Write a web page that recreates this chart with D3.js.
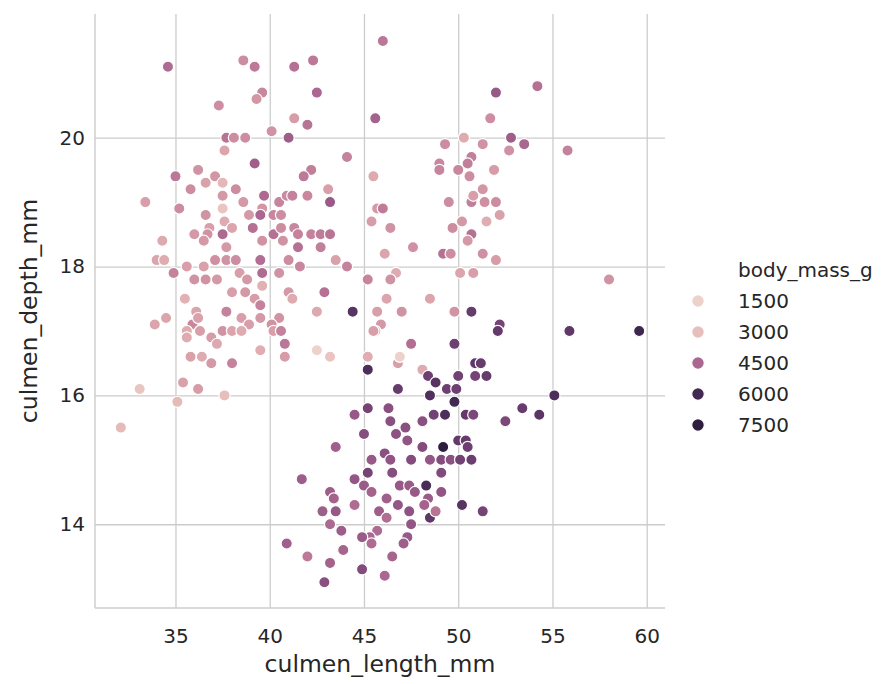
<!DOCTYPE html>
<html><head><meta charset="utf-8">
<script src="https://cdn.jsdelivr.net/npm/d3@7"></script>
<style>
body{margin:0;background:#fff}
svg{display:block}
text{font-family:"DejaVu Sans",sans-serif;fill:#262626}
</style>
</head><body>
<svg id="c" width="888" height="684"></svg>
<script>
// ---- data ----
const culmenLength = [
 34.6,38.6,39.2,39.6,39.3,37.3,40.1,37.7,38.1,38.7,41.0,37.6,39.2,35.0,36.2,37.1,36.6,37.5,35.8,38.2,37.5,39.7,33.4,38.6,40.5,40.9,35.2,37.5,39.6,
 36.6,37.6,38.0,38.9,39.5,40.2,40.6,36.0,36.8,36.7,37.5,39.1,40.2,40.6,34.3,36.5,37.7,39.6,40.7,34.0,34.4,37.1,37.7,38.2,39.5,41.0,34.9,35.6,36.5,36.0,
 36.6,37.2,38.4,38.8,39.6,39.6,40.5,35.5,38.0,38.7,39.2,39.5,41.0,36.1,37.7,38.5,39.5,40.5,33.9,34.5,35.9,36.2,38.9,35.6,36.3,37.5,38.0,38.5,40.1,40.2,
 40.6,35.6,36.9,37.2,40.8,39.5,35.8,36.4,36.9,38.0,40.8,33.1,35.4,36.2,37.6,35.1,32.1,40.9,
 46.0,41.3,42.3,42.5,41.3,42.0,45.6,44.1,42.2,41.8,41.2,42.0,43.1,43.2,45.5,45.7,46.0,49.3,49.0,49.0,50.0,50.3,50.7,50.5,50.6,49.5,50.7,50.8,
 52.0,54.2,51.7,52.8,53.5,52.7,55.8,51.3,51.9,51.3,51.4,52.0,
 45.4,46.4,41.3,41.5,42.2,42.7,43.2,41.5,42.7,41.6,43.5,44.1,47.6,46.1,49.2,49.6,49.7,50.2,50.7,50.5,
 50.1,50.8,46.7,46.4,45.2,42.9,41.2,42.5,44.4,46.2,48.5,45.7,47.0,49.8,50.7,45.9,45.6,45.5,47.5,49.8,
 42.5,43.2,45.2,46.8,46.9,45.2,48.1,48.4,48.8,50.0,50.9,50.9,46.8,48.5,49.4,49.9,
 52.2,51.5,51.3,52.0,58.0,52.2,52.1,55.9,59.6,51.2,51.5,55.1,
 52.5,53.4,54.3,51.3,
 45.2,46.3,44.5,46.4,45.0,47.2,46.7,47.3,43.5,46.1,45.4,46.4,46.5,45.2,44.5,41.7,43.2,43.4,42.8,43.5,
 44.5,43.2,43.8,45.0,45.4,46.2,46.8,45.8,46.2,46.9,47.4,47.7,47.4,47.5,45.7,45.3,44.9,45.4,47.3,47.1,
 43.9,42.0,43.2,44.9,46.5,46.1,42.9,48.1,48.1,48.7,49.3,49.8,50.4,50.8,49.2,50.0,50.4,50.5,47.5,
 48.5,49.1,49.6,50.1,50.7,49.1,48.3,49.1,48.4,48.2,50.2,48.5,48.8
];
const culmenDepth = [
 21.1,21.2,21.1,20.7,20.6,20.5,20.1,20.0,20.0,20.0,20.0,19.8,19.6,19.4,19.5,19.4,19.3,19.3,19.2,19.2,19.1,19.1,19.0,19.0,19.0,19.1,18.9,18.9,18.9,
 18.8,18.7,18.6,18.8,18.8,18.8,18.8,18.5,18.6,18.5,18.5,18.6,18.5,18.6,18.4,18.4,18.3,18.4,18.4,18.1,18.1,18.1,18.1,18.1,18.1,18.1,17.9,18.0,18.0,17.8,
 17.8,17.8,17.9,17.8,17.9,17.7,17.9,17.5,17.6,17.6,17.5,17.4,17.6,17.3,17.3,17.2,17.2,17.2,17.1,17.2,17.1,17.2,17.1,17.0,17.0,17.0,17.0,17.0,17.1,17.0,
 17.0,16.9,16.9,16.8,16.8,16.7,16.6,16.6,16.5,16.5,16.6,16.1,16.2,16.1,16.0,15.9,15.5,13.7,
 21.5,21.1,21.2,20.7,20.3,20.2,20.3,19.7,19.5,19.4,19.1,19.1,19.2,19.0,19.4,18.9,18.9,19.9,19.6,19.5,19.5,20.0,19.7,19.6,19.4,19.0,19.0,19.1,
 20.7,20.8,20.3,20.0,19.9,19.8,19.8,19.9,19.5,19.2,19.0,19.0,
 18.7,18.6,18.6,18.5,18.5,18.5,18.5,18.3,18.3,18.0,18.1,18.0,18.3,18.2,18.2,18.2,18.6,18.7,18.5,18.4,
 17.9,17.9,17.9,17.8,17.8,17.6,17.5,17.3,17.3,17.5,17.5,17.3,17.3,17.3,17.3,17.1,17.0,17.0,16.8,16.8,
 16.7,16.6,16.6,16.5,16.6,16.4,16.4,16.3,16.2,16.3,16.5,16.3,16.1,16.0,16.1,16.1,
 18.8,18.7,18.2,18.1,17.8,17.1,17.0,17.0,17.0,16.5,16.3,16.0,
 15.6,15.8,15.7,14.2,
 15.8,15.8,15.7,15.6,15.4,15.5,15.4,15.3,15.2,15.1,15.0,15.0,14.8,14.8,14.7,14.7,14.5,14.4,14.2,14.2,
 14.3,14.0,13.9,14.6,14.5,14.4,14.3,14.2,14.1,14.6,14.6,14.5,14.2,14.0,13.9,13.8,13.8,13.7,13.8,13.7,
 13.6,13.5,13.4,13.3,13.5,13.2,13.1,15.2,15.6,15.7,15.7,15.9,15.7,15.7,15.2,15.3,15.3,15.2,15.0,
 15.0,15.0,15.0,15.0,15.0,14.8,14.6,14.5,14.4,14.3,14.3,14.1,14.2
];
const bodyMass = [
 4400,3800,4150,3900,3650,3775,3700,4250,3800,3800,4700,3400,4675,4200,3700,3650,3450,3100,3800,3800,3600,4450,3500,3600,3950,3850,3800,2900,3650,
 3700,3300,3400,3600,4500,3900,3800,3600,3500,3700,4450,4300,4300,3800,3325,3600,3600,3700,3700,3400,3300,3750,3700,3800,4350,3800,4000,3500,3450,3700,
 3700,3600,3500,3600,4400,3200,3700,3200,3500,3600,3550,4000,3600,3400,4000,3500,3600,3700,3400,3400,3900,3450,3500,3300,3500,3700,3400,3300,3700,3500,
 4000,3300,3550,3350,4200,3250,3450,3300,3600,4000,3550,2900,3450,3550,3000,3050,3050,4650,
 4200,4300,4150,4500,3550,4250,4600,4000,4050,4150,4000,3900,3500,4775,3325,3600,4100,3800,3900,3950,3900,3300,4050,4050,3800,3800,4050,3500,
 4800,4300,3775,4700,4500,3725,4000,3700,3550,3650,3750,3800,
 3525,3700,3900,4000,4000,4100,4250,4300,4050,3900,3450,4000,3725,3400,4300,3800,3800,3600,4300,3600,
 3400,3500,3300,3700,3950,4300,3300,3350,5700,3400,3400,3500,3700,3675,5500,3600,3500,3500,4350,5400,
 2700,2900,3250,3500,2700,5850,3300,5400,5700,5350,5600,5300,5500,5800,5400,5400,
 3450,3250,3750,3550,3700,5300,5550,5600,6050,5500,5500,5850,
 5200,5500,5650,5300,
 5300,5000,4800,5000,5050,5000,4950,4900,4650,5000,4800,4900,5050,5300,4850,4700,4700,4600,4700,4800,
 4400,4450,4700,4750,4600,4650,4850,4700,4375,4800,4750,4800,4925,4875,4400,4500,4750,4400,4800,4700,
 4550,4150,4600,5100,4550,4500,5000,5100,5000,5350,5850,6000,5550,5200,6300,5550,5500,5400,5100,
 4850,5100,4975,5350,5450,5150,5900,4900,4750,4600,5700,5600,4250
];
const xTicks = [35, 40, 45, 50, 55, 60];
const yTicks = [14, 16, 18, 20];
const legendValues = [1500, 3000, 4500, 6000, 7500];
const massRange = [2700, 6300];

// ---- seaborn "ch:" cubehelix colormap ----
function cubehelix(v) {
  const start = 0, rot = 0.4, gamma = 1, hue = 0.8;
  const xg = Math.pow(v, gamma);
  const a = hue * xg * (1 - xg) / 2;
  const phi = 2 * Math.PI * (start / 3 + rot * v);
  const c = Math.cos(phi), s = Math.sin(phi);
  const cl = q => Math.round(255 * Math.max(0, Math.min(1, q)));
  const r = xg + a * (-0.14861 * c + 1.78277 * s);
  const g = xg + a * (-0.29227 * c - 0.90649 * s);
  const b = xg + a * (1.97294 * c);
  return `rgb(${cl(r)},${cl(g)},${cl(b)})`;
}
const norm = d3.scaleLinear().domain(massRange).range([0.85, 0.15]).clamp(true);
const color = m => cubehelix(norm(m));

const data = culmenLength.map((d, i) => ({x: d, y: culmenDepth[i], m: bodyMass[i]}));

const L = 95, R = 665, T = 14, B = 608;
const svg = d3.select('#c');
const x = d3.scaleLinear().domain([30.73, 60.97]).range([L, R]);
const y = d3.scaleLinear().domain([12.70, 21.92]).range([B, T]);

const gridColor = '#cccccc';
const xAxis = svg.append('g').attr('transform', `translate(0,${B})`)
  .call(d3.axisBottom(x).tickValues(xTicks).tickSize(-(B - T)).tickPadding(21).tickFormat(d3.format('d')));
const yAxis = svg.append('g').attr('transform', `translate(${L},0)`)
  .call(d3.axisLeft(y).tickValues(yTicks).tickSize(-(R - L)).tickPadding(10).tickFormat(d3.format('d')));
[xAxis, yAxis].forEach(g => {
  g.attr('font-size', 20).attr('font-family', '"DejaVu Sans", sans-serif');
  g.select('.domain').remove();
  g.selectAll('.tick line').attr('stroke', gridColor).attr('stroke-width', 1.3);
  g.selectAll('.tick text').attr('fill', '#262626');
});

// spines (left & bottom)
svg.append('line').attr('x1', L).attr('x2', L).attr('y1', T).attr('y2', B)
  .attr('stroke', gridColor).attr('stroke-width', 1.4);
svg.append('line').attr('x1', L).attr('x2', R).attr('y1', B).attr('y2', B)
  .attr('stroke', gridColor).attr('stroke-width', 1.4);

// points
svg.append('g').selectAll('circle').data(data).join('circle')
  .attr('cx', d => x(d.x)).attr('cy', d => y(d.y)).attr('r', 5.6)
  .attr('fill', d => color(d.m)).attr('stroke', '#fff').attr('stroke-width', 1.2);

// axis labels
svg.append('text').attr('x', (L + R) / 2).attr('y', 672).attr('text-anchor', 'middle')
  .attr('font-size', 23.5).text('culmen_length_mm');
svg.append('text').attr('transform', `translate(37,${(T + B) / 2}) rotate(-90)`)
  .attr('text-anchor', 'middle').attr('font-size', 23.5).text('culmen_depth_mm');

// legend
const lg = svg.append('g');
lg.append('text').attr('x', 738).attr('y', 277).attr('font-size', 20).text('body_mass_g');
const rows = lg.selectAll('g.row').data(legendValues).join('g').attr('class', 'row')
  .attr('transform', (d, i) => `translate(0,${301 + i * 31})`);
rows.append('circle').attr('cx', 698).attr('cy', 0).attr('r', 6.3)
  .attr('fill', d => color(d)).attr('stroke', '#fff').attr('stroke-width', 1.2);
rows.append('text').attr('x', 738).attr('y', 7).attr('font-size', 20).text(d => d);
</script>
</body></html>
